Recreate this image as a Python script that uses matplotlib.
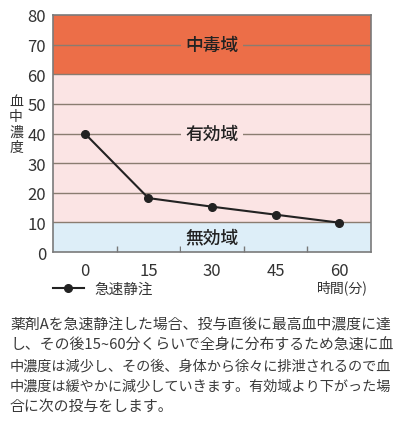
import matplotlib
matplotlib.use("Agg")
import matplotlib.pyplot as plt

plt.rcParams['font.family'] = ['Noto Sans CJK JP', 'DejaVu Sans']

# ---- data ----
times = [0, 15, 30, 45, 60]
concentration = [40, 18.2, 15.3, 12.6, 9.9]
x_ticks = [0, 15, 30, 45, 60]
y_ticks = [0, 10, 20, 30, 40, 50, 60, 70, 80]
bands = [(0, 10), (10, 60), (60, 80)]
band_labels = ["無効域", "有効域", "中毒域"]
band_label_y = [5, 40, 70]
series_name = "急速静注"
x_label = "時間(分)"
y_label = "血中濃度"
paragraph = [
    "薬剤Aを急速静注した場合、投与直後に最高血中濃度に達",
    "し、その後15~60分くらいで全身に分布するため急速に血",
    "中濃度は減少し、その後、身体から徐々に排泄されるので血",
    "中濃度は緩やかに減少していきます。有効域より下がった場",
    "合に次の投与をします。",
]

band_colors = ["#DDEEF8", "#FBE4E4", "#EC6E48"]

W, H = 400, 431
fig = plt.figure(figsize=(W / 100, H / 100), dpi=100)
ax = fig.add_axes([53 / W, (H - 253) / H, 318 / W, 237 / H])

for (lo, hi), c in zip(bands, band_colors):
    ax.axhspan(lo, hi, color=c, zorder=0, lw=0)

for y in y_ticks[1:-1]:
    ax.axhline(y, color="#8a7c70", lw=1.0, zorder=1)

for lbl, y, c in zip(band_labels, band_label_y, band_colors):
    ax.text(30, y, lbl, ha="center", va="center", fontsize=12.8,
            color="#222222", zorder=3, fontweight="medium",
            bbox=dict(boxstyle="square,pad=0.25", fc=c, ec="none"))

ax.plot(times, concentration, color="#222222", lw=1.5, marker="o",
        markersize=5.5, zorder=4, label=series_name)

ax.set_xlim(-7.5, 67.5)
ax.set_ylim(0, 80)
ax.set_yticks(y_ticks)
ax.set_xticks(x_ticks)
ax.set_xticks([7.5, 22.5, 37.5, 52.5], minor=True)
ax.tick_params(axis="y", length=0, pad=5, labelsize=12, labelcolor="#333333")
ax.tick_params(axis="x", which="major", length=0, pad=7, labelsize=12,
               labelcolor="#333333")
ax.tick_params(axis="x", which="minor", direction="in", length=4,
               color="#777777", width=1)

for s in ax.spines.values():
    s.set_color("#7a7a7a")
    s.set_linewidth(1.2)
    s.set_zorder(6)

ax.legend(loc="center left", bbox_to_anchor=(0, -0.156), frameon=False,
          borderaxespad=0, borderpad=0, handlelength=2.1, handletextpad=0.75,
          fontsize=10.5, labelcolor="#333333")

fig.text(368 / W, 1 - 288 / H, x_label, ha="right", va="center",
         fontsize=10, color="#333333")
fig.text(16 / W, 1 - 125 / H, "\n".join(y_label), ha="center", va="center",
         fontsize=10, color="#333333", linespacing=1.1)

renderer = fig.canvas.get_renderer()
line_y = [325, 346, 366.5, 387, 407]
target_w = 383.0
for i, (txt, yy) in enumerate(zip(paragraph, line_y)):
    t = fig.text(10 / W, 1 - yy / H, txt, ha="left", va="center",
                 fontsize=10.7, color="#3a3a3a")
    if i < len(paragraph) - 1:
        w = t.get_window_extent(renderer).width
        if w > target_w:
            t.set_fontsize(10.7 * target_w / w)

fig.savefig("out.png", dpi=100)
